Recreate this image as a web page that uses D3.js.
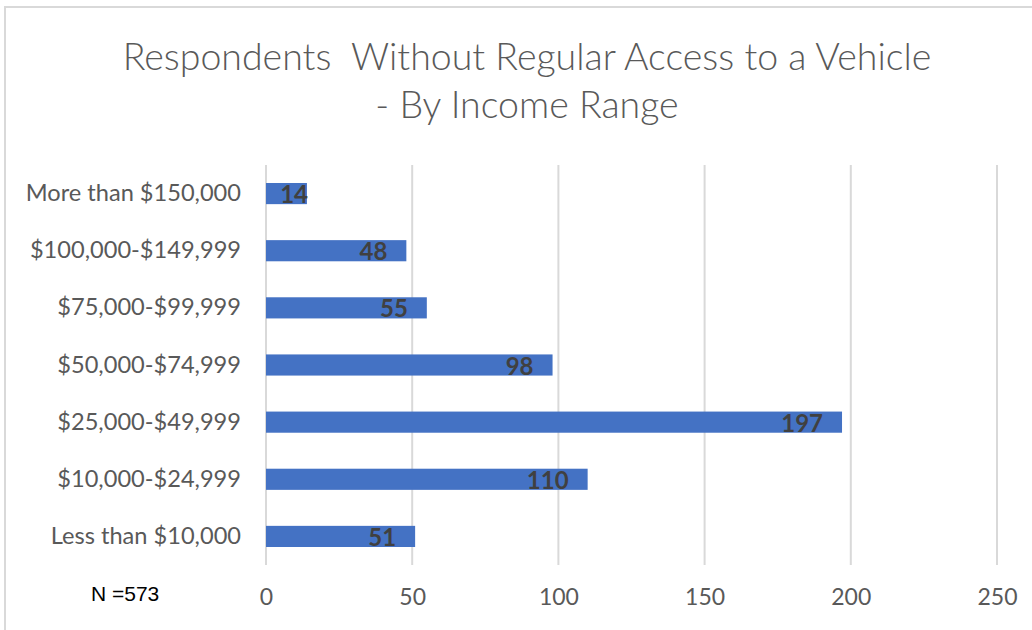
<!DOCTYPE html>
<html>
<head>
<meta charset="utf-8">
<script src="https://cdn.jsdelivr.net/npm/d3@7"></script>
<style>
  html, body { margin: 0; padding: 0; background: #fff; }
  svg { display: block; }
</style>
</head>
<body>
<svg id="chart" width="1032" height="630"></svg>
<script>
// Income ranges, listed bottom to top as they appear on the axis
const categories = [
  "Less than $10,000",
  "$10,000-$24,999",
  "$25,000-$49,999",
  "$50,000-$74,999",
  "$75,000-$99,999",
  "$100,000-$149,999",
  "More than $150,000"
];
// Respondents without regular access to a vehicle in each range
const counts = [51, 110, 197, 98, 55, 48, 14];
const tickValues = [0, 50, 100, 150, 200, 250];
const titleLines = [
  "Respondents  Without Regular Access to a Vehicle",
  "- By Income Range"
];
const sampleNote = "N =573";

const svg = d3.select("#chart");
const W = 1032, H = 630;
const plot = { left: 266, right: 997, top: 165, bottom: 565 };
const font = "Lato, 'Open Sans', sans-serif";

// Frame around the chart area
svg.append("rect").attr("width", W).attr("height", H).attr("fill", "#fff");
svg.append("path")
  .attr("d", `M5,${H} V7 H${W}`)
  .attr("fill", "none")
  .attr("stroke", "#d9d9d9")
  .attr("stroke-width", 2);

// Title
svg.append("g").selectAll("text")
  .data(titleLines)
  .join("text")
  .attr("x", 527)
  .attr("y", (d, i) => 70 + i * 48)
  .attr("text-anchor", "middle")
  .attr("font-family", font)
  .attr("font-weight", 300)
  .attr("font-size", 37.5)
  .attr("fill", "#595959")
  .style("white-space", "pre")
  .text(d => d);

const x = d3.scaleLinear().domain([0, 250]).range([plot.left, plot.right]);
const y = d3.scaleBand()
  .domain(categories.slice().reverse())
  .range([plot.top, plot.bottom])
  .paddingInner(0.63)
  .paddingOuter(0.315);

// Vertical gridlines
svg.append("g").selectAll("line")
  .data(tickValues)
  .join("line")
  .attr("x1", d => x(d)).attr("x2", d => x(d))
  .attr("y1", plot.top).attr("y2", plot.bottom)
  .attr("stroke", "#d9d9d9")
  .attr("stroke-width", 2);

// Value axis labels
const xAxis = svg.append("g")
  .attr("transform", `translate(0,${plot.bottom})`)
  .call(d3.axisBottom(x).tickValues(tickValues).tickSize(0).tickPadding(24));
xAxis.select(".domain").remove();
xAxis.selectAll("text")
  .attr("font-family", font)
  .attr("font-size", 23)
  .attr("fill", "#595959");

// Category axis labels
const yAxis = svg.append("g")
  .attr("transform", `translate(${plot.left},0)`)
  .call(d3.axisLeft(y).tickSize(0).tickPadding(25));
yAxis.select(".domain").remove();
yAxis.selectAll("text")
  .attr("font-family", font)
  .attr("font-size", 23.6)
  .attr("fill", "#595959");

// Bars
svg.append("g").selectAll("rect")
  .data(categories.map((c, i) => ({ c, v: counts[i] })))
  .join("rect")
  .attr("x", x(0))
  .attr("y", d => y(d.c))
  .attr("width", d => x(d.v) - x(0))
  .attr("height", y.bandwidth())
  .attr("fill", "#4472c4");

// Value labels, placed just inside the end of each bar
svg.append("g").selectAll("text")
  .data(categories.map((c, i) => ({ c, v: counts[i] })))
  .join("text")
  .attr("x", d => Math.max(x(d.v) - 19, x(0) + 42))
  .attr("y", d => y(d.c) + y.bandwidth() / 2)
  .attr("dy", "0.4em")
  .attr("text-anchor", "end")
  .attr("font-family", font)
  .attr("font-weight", 700)
  .attr("font-size", 24)
  .attr("fill", "#404040")
  .text(d => d.v);

// Sample size note
svg.append("text")
  .attr("x", 91)
  .attr("y", 601)
  .attr("font-family", "'Liberation Sans', Arial, sans-serif")
  .attr("font-size", 21)
  .attr("fill", "#000")
  .text(sampleNote);
</script>
</body>
</html>
